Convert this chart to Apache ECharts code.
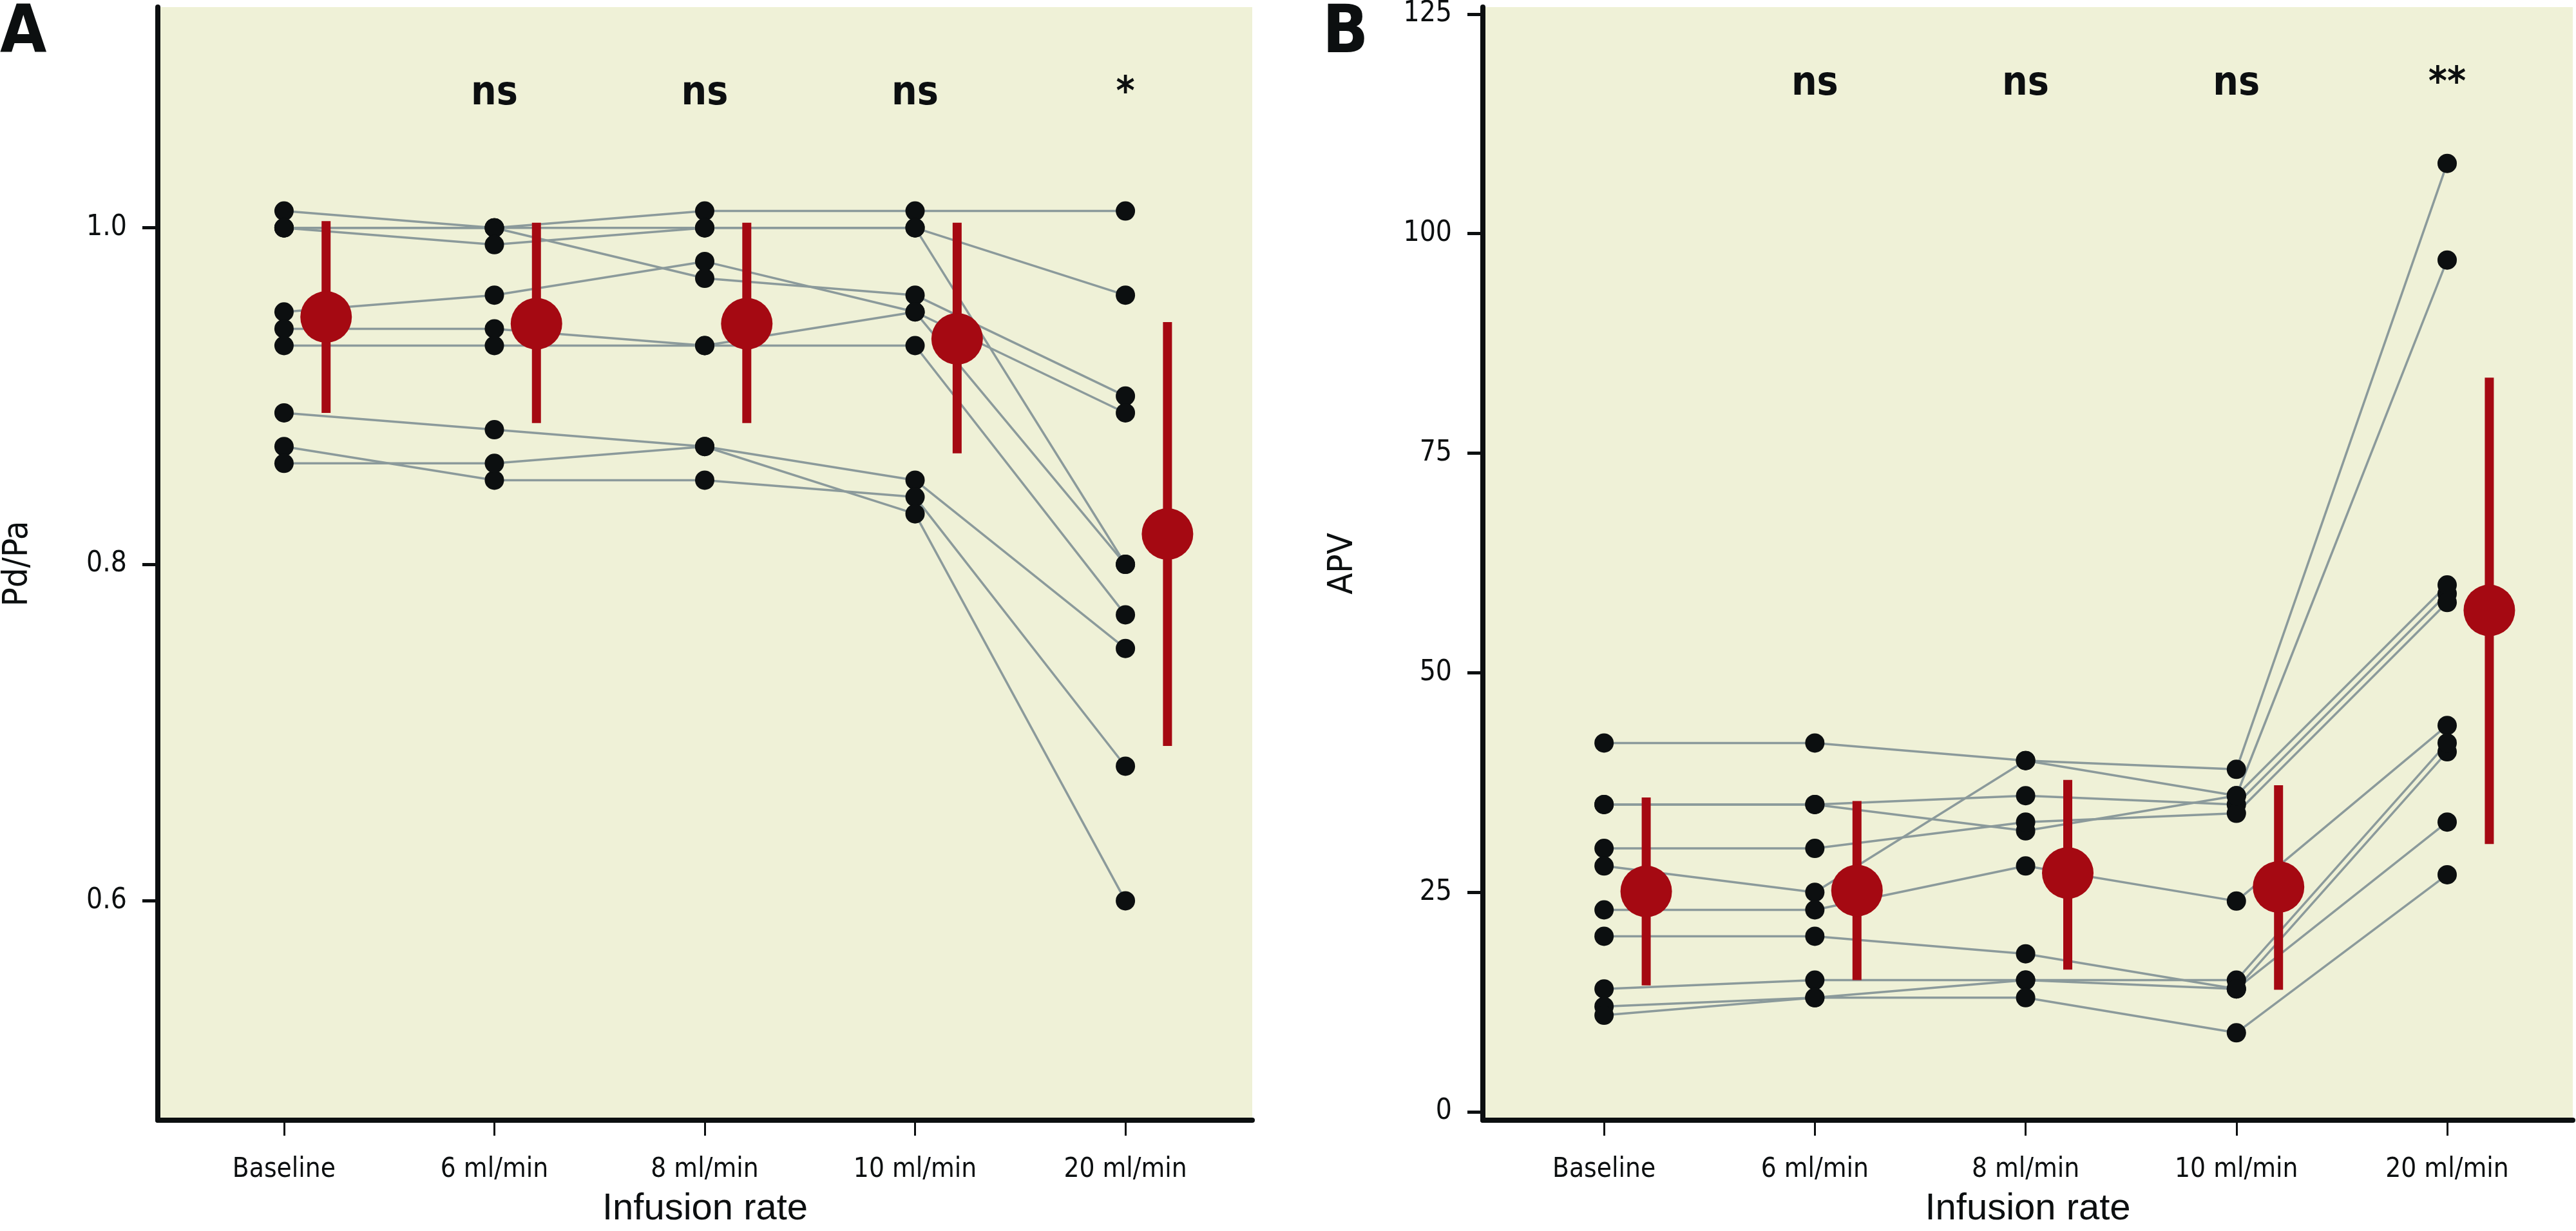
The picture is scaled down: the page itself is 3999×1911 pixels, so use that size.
<!DOCTYPE html>
<html>
<head>
<meta charset="utf-8">
<script src="https://cdn.jsdelivr.net/npm/echarts@6/dist/echarts.min.js"></script>
<style>
html,body{margin:0;padding:0;background:#fff;}
#chart{width:3999px;height:1911px;}
</style>
</head>
<body>
<div id="chart"></div>
<script>
// ---------- data ----------
const categories = ['Baseline', '6 ml/min', '8 ml/min', '10 ml/min', '20 ml/min'];

// Panel A: Pd/Pa per subject (Baseline, 6, 8, 10, 20 ml/min)
const pdpaSubjects = [
  [1.01, 1.00, 1.01, 1.01, 1.01],
  [1.00, 1.00, 1.00, 1.00, 0.96],
  [1.00, 1.00, 0.97, 0.96, 0.90],
  [1.00, 0.99, 1.00, 1.00, 0.80],
  [0.95, 0.96, 0.98, 0.95, 0.89],
  [0.94, 0.94, 0.93, 0.95, 0.80],
  [0.93, 0.93, 0.93, 0.93, 0.77],
  [0.89, 0.88, 0.87, 0.85, 0.75],
  [0.87, 0.85, 0.85, 0.84, 0.68],
  [0.86, 0.86, 0.87, 0.83, 0.60]
];
const pdpaMean = [0.947, 0.943, 0.943, 0.934, 0.818];
const pdpaLow  = [0.890, 0.884, 0.884, 0.866, 0.692];
const pdpaHigh = [1.004, 1.003, 1.003, 1.003, 0.944];
const pdpaSig  = ['', 'ns', 'ns', 'ns', '*'];
const pdpaTicks = [0.6, 0.8, 1.0];

// Panel B: APV per subject
const apvSubjects = [
  [42, 42, 40, 39, 108],
  [35, 35, 36, 35, 59],
  [35, 35, 32, 36, 60],
  [30, 30, 33, 34, 58],
  [28, 25, 40, 36, 97],
  [23, 23, 28, 24, 44],
  [20, 20, 18, 14, 41],
  [14, 15, 15, 15, 42],
  [12, 13, 15, 14, 33],
  [11, 13, 13, 9, 27]
];
const apvMean = [25.1, 25.2, 27.2, 25.6, 57.1];
const apvLow  = [14.4, 15.0, 16.2, 13.9, 30.5];
const apvHigh = [35.8, 35.4, 37.8, 37.2, 83.6];
const apvSig  = ['', 'ns', 'ns', 'ns', '**'];
const apvTicks = [0, 25, 50, 75, 100, 125];

// ---------- styles ----------
const BG = '#eff1d7';
const INK = '#0c0f10';
const GREY = '#8b9a9b';
const RED = '#a50912';
const NARROW = "'Liberation Sans Narrow', 'DejaVu Sans Condensed', 'Liberation Sans', sans-serif";
const REG = "'Liberation Sans', Arial, sans-serif";
const OFFSET = 0.2;

const chart = echarts.init(document.getElementById('chart'), null, {renderer: 'canvas'});

function xAxisDef(idx, min, max) {
  return {
    type: 'value', gridIndex: idx, min: min, max: max,
    axisLine: {show: true, onZero: false, lineStyle: {color: INK, width: 8}},
    axisTick: {show: true, customValues: [0, 1, 2, 3, 4], length: 24, lineStyle: {color: INK, width: 3}},
    axisLabel: {show: true, customValues: [0, 1, 2, 3, 4], formatter: v => categories[Math.round(v)],
      margin: 56, fontFamily: NARROW, fontSize: 42, color: INK},
    splitLine: {show: false},
    name: 'Infusion rate', nameLocation: 'middle', nameGap: 109,
    nameTextStyle: {fontFamily: REG, fontSize: 58, color: INK}
  };
}
function yAxisDef(idx, min, max, ticks, fmt, name) {
  return {
    type: 'value', gridIndex: idx, min: min, max: max,
    axisLine: {show: true, onZero: false, lineStyle: {color: INK, width: 8}},
    axisTick: {show: true, customValues: ticks, length: 24, lineStyle: {color: INK, width: 5}},
    axisLabel: {show: true, customValues: ticks, formatter: fmt, margin: 48,
      fontFamily: NARROW, fontSize: 44, color: INK},
    splitLine: {show: false},
    name: name, nameLocation: 'middle', nameGap: 190,
    nameTextStyle: {fontFamily: NARROW, fontSize: 54, color: INK}
  };
}

function panelSeries(idx, subjects, mean, low, high, sig, sigY) {
  const s = [];
  subjects.forEach(row => {
    s.push({
      type: 'line', xAxisIndex: idx, yAxisIndex: idx,
      data: row.map((v, i) => [i, v]),
      symbol: 'none', silent: true, z: 2,
      lineStyle: {color: GREY, width: 3.5}
    });
  });
  const pts = [];
  subjects.forEach(row => row.forEach((v, i) => pts.push([i, v])));
  s.push({
    type: 'scatter', xAxisIndex: idx, yAxisIndex: idx, data: pts,
    symbol: 'circle', symbolSize: 30, itemStyle: {color: INK, opacity: 1}, z: 3, silent: true
  });
  s.push({
    type: 'custom', xAxisIndex: idx, yAxisIndex: idx, z: 4, silent: true,
    data: mean.map((m, i) => [i, low[i], high[i]]),
    renderItem: function (params, api) {
      const x = api.value(0) + OFFSET;
      const p1 = api.coord([x, api.value(1)]);
      const p2 = api.coord([x, api.value(2)]);
      return {type: 'line', shape: {x1: p1[0], y1: p1[1], x2: p2[0], y2: p2[1]},
        style: {stroke: RED, lineWidth: 14, lineCap: 'butt'}};
    }
  });
  s.push({
    type: 'scatter', xAxisIndex: idx, yAxisIndex: idx, z: 5, silent: true,
    data: mean.map((m, i) => [i + OFFSET, m]),
    symbol: 'circle', symbolSize: 80, itemStyle: {color: RED, opacity: 1}
  });
  s.push({
    type: 'custom', xAxisIndex: idx, yAxisIndex: idx, z: 6, silent: true,
    data: sig.map((t, i) => [i, sigY]),
    renderItem: function (params, api) {
      const p = api.coord([api.value(0), api.value(1)]);
      return {type: 'text', x: p[0], y: p[1],
        style: {text: sig[params.dataIndex], fill: INK, align: 'center', verticalAlign: 'middle',
          font: "bold 62px " + NARROW}};
    }
  });
  return s;
}

const option = {
  animation: false,
  backgroundColor: '#ffffff',
  grid: [
    {left: 244, top: 11, width: 1700, height: 1745, show: true, backgroundColor: BG, borderWidth: 0},
    {left: 2302, top: 11, width: 1692, height: 1745, show: true, backgroundColor: BG, borderWidth: 0}
  ],
  xAxis: [xAxisDef(0, -0.6, 4.603), xAxisDef(1, -0.575, 4.596)],
  yAxis: [
    yAxisDef(0, 0.4696, 1.1312, pdpaTicks, v => v.toFixed(1), 'Pd/Pa'),
    yAxisDef(1, -0.95, 125.8, apvTicks, v => String(Math.round(v)), 'APV')
  ],
  graphic: [
    {type: 'text', left: 0, top: 2, style: {text: 'A', fontFamily: NARROW, fontWeight: 'bold', fontSize: 104, fill: INK}},
    {type: 'text', left: 2053, top: 2, style: {text: 'B', fontFamily: NARROW, fontWeight: 'bold', fontSize: 104, fill: INK}}
  ],
  series: [].concat(
    panelSeries(0, pdpaSubjects, pdpaMean, pdpaLow, pdpaHigh, pdpaSig, 1.0796),
    panelSeries(1, apvSubjects, apvMean, apvLow, apvHigh, apvSig, 117.0)
  )
};
chart.setOption(option);
</script>
</body>
</html>
